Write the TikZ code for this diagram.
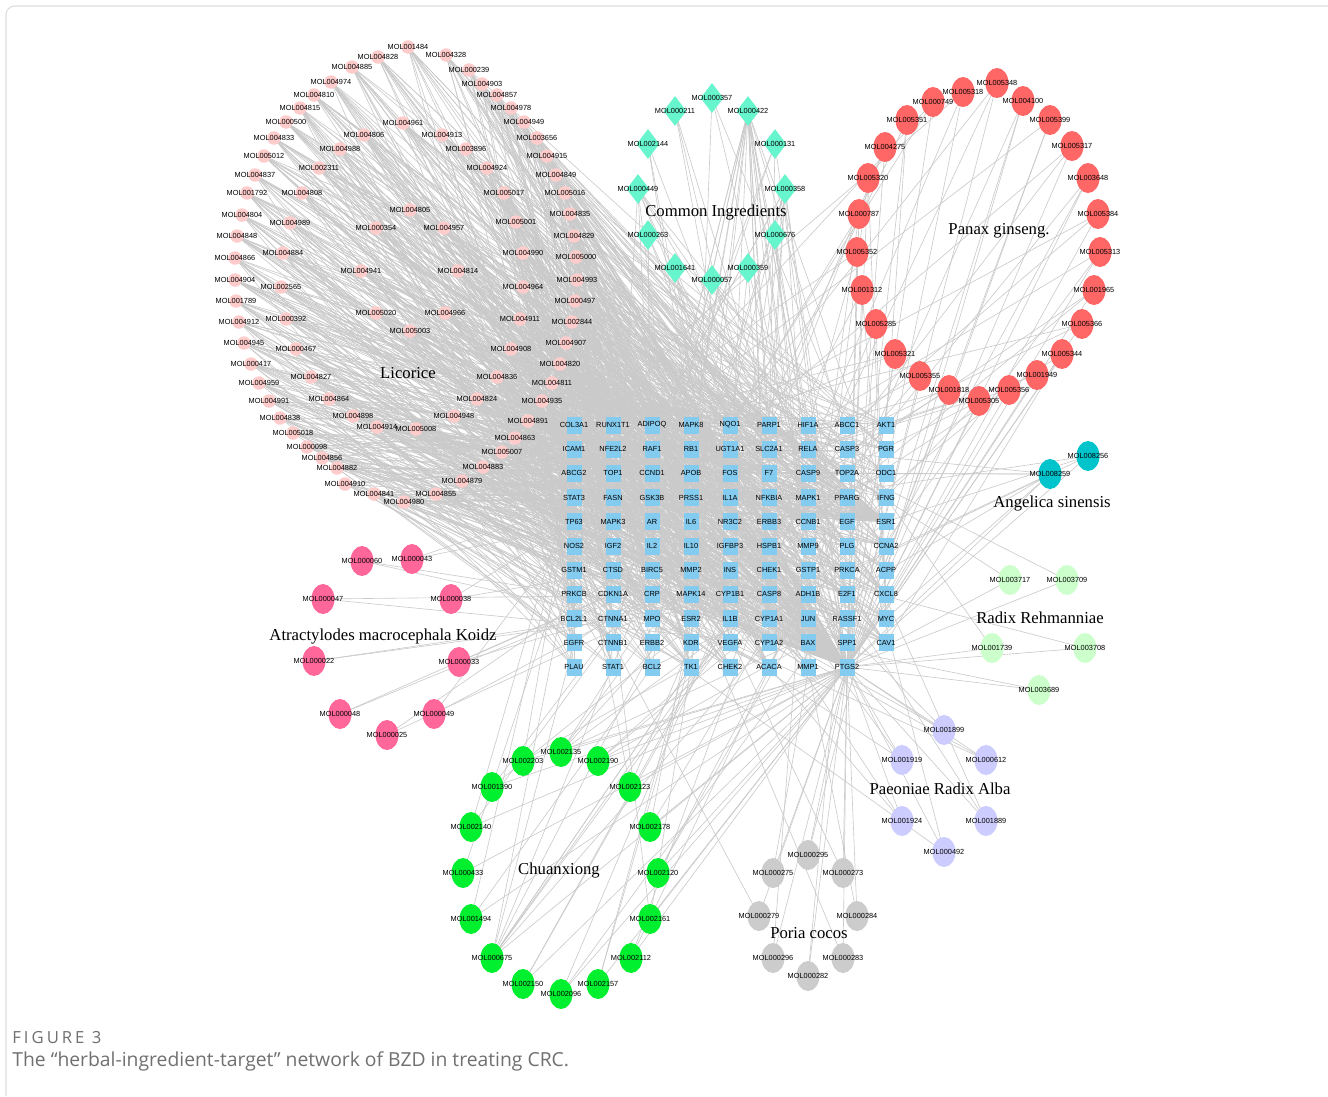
\documentclass[tikz,border=0pt]{standalone}
\usepackage{fontspec}
\setmainfont{Liberation Serif}
\newfontfamily\arialf{Liberation Sans}
\newfontfamily\capfont{Open Sans}
\newfontfamily\capfontsp[LetterSpace=18]{Open Sans}
\usetikzlibrary{shapes.geometric}
\pgfdeclarelayer{paper}
\pgfdeclarelayer{bg}
\pgfsetlayers{paper,bg,main}
\definecolor{edgegray}{HTML}{CACACA}
\definecolor{framegray}{HTML}{DDDDDD}
\definecolor{capgray}{HTML}{707070}
\definecolor{licC}{HTML}{FFCCCC}
\definecolor{comC}{HTML}{66F5CC}
\definecolor{panC}{HTML}{FF6666}
\definecolor{atrC}{HTML}{FF6699}
\definecolor{chuC}{HTML}{00F030}
\definecolor{porC}{HTML}{CCCCCC}
\definecolor{paeC}{HTML}{CCCCFF}
\definecolor{rehC}{HTML}{CCFFCC}
\definecolor{angC}{HTML}{00C4CC}
\definecolor{tgtC}{HTML}{84CBF0}
\begin{document}
\begin{tikzpicture}[x=0.02cm,y=-0.02cm,
  edge/.style={draw=edgegray,line width=0.35pt},
  lbl/.style={font=\arialf\fontsize{4.2}{5}\selectfont,inner sep=0pt,text=black},
  herb/.style={font=\fontsize{9.5}{11}\selectfont,inner sep=0pt},
  lic/.style={circle,fill=licC,minimum size=0.27cm,inner sep=0pt},
  com/.style={diamond,fill=comC,minimum width=0.46cm,minimum height=0.6cm,inner sep=0pt},
  big/.style={ellipse,minimum width=0.46cm,minimum height=0.6cm,inner sep=0pt},
  tgt/.style={rectangle,fill=tgtC,minimum width=0.3cm,minimum height=0.34cm,inner sep=0pt}]
\pgfmathsetseed{4711}
\useasboundingbox (0,0) rectangle (1328,1096);
\begin{pgfonlayer}{paper}
\fill[white] (0,0) rectangle (1328,1096);
\draw[framegray,line width=0.6pt,rounded corners=5pt] (6,1096) -- (6,6) -- (1328,6);
\end{pgfonlayer}

% targets
\foreach \row [count=\ri from 0] in {
 {COL3A1,RUNX1T1,ADIPOQ,MAPK8,NQO1,PARP1,HIF1A,ABCC1,AKT1},
 {ICAM1,NFE2L2,RAF1,RB1,UGT1A1,SLC2A1,RELA,CASP3,PGR},
 {ABCG2,TOP1,CCND1,APOB,FOS,F7,CASP9,TOP2A,ODC1},
 {STAT3,FASN,GSK3B,PRSS1,IL1A,NFKBIA,MAPK1,PPARG,IFNG},
 {TP63,MAPK3,AR,IL6,NR3C2,ERBB3,CCNB1,EGF,ESR1},
 {NOS2,IGF2,IL2,IL10,IGFBP3,HSPB1,MMP9,PLG,CCNA2},
 {GSTM1,CTSD,BIRC5,MMP2,INS,CHEK1,GSTP1,PRKCA,ACPP},
 {PRKCB,CDKN1A,CRP,MAPK14,CYP1B1,CASP8,ADH1B,E2F1,CXCL8},
 {BCL2L1,CTNNA1,MPO,ESR2,IL1B,CYP1A1,JUN,RASSF1,MYC},
 {EGFR,CTNNB1,ERBB2,KDR,VEGFA,CYP1A2,BAX,SPP1,CAV1},
 {PLAU,STAT1,BCL2,TK1,CHEK2,ACACA,MMP1,PTGS2}}{
  \foreach \g [count=\ci from 0] in \row {
    \pgfmathtruncatemacro{\id}{\ri*9+\ci+1}
    \node[tgt,label={[lbl]center:\g}] (t\id) at ({574+39*\ci},{425+24.2*\ri}) {};
  }
}

% Licorice
\foreach \x/\y/\m [count=\i] in {408/47/MOL001484,446/55/MOL004328,378/57/MOL004828,352/67/MOL004885,469/70/MOL000239,331/82/MOL004974,482/84/MOL004903,314/95/MOL004810,497/95/MOL004857,300/108/MOL004815,511/108/MOL004978,286/122/MOL000500,524/122/MOL004949,274/138/MOL004833,537/138/MOL003656,264/156/MOL005012,547/156/MOL004915,255/175/MOL004837,556/175/MOL004849,247/193/MOL001792,565/193/MOL005016,242/215/MOL004804,570/214/MOL004835,237/236/MOL004848,574/236/MOL004829,235/258/MOL004866,576/257/MOL005000,235/280/MOL004904,577/280/MOL004993,236/301/MOL001789,575/301/MOL000497,239/322/MOL004912,572/322/MOL002844,244/343/MOL004945,566/343/MOL004907,251/364/MOL000417,560/364/MOL004820,259/383/MOL004959,552/383/MOL004811,269/401/MOL004991,542/401/MOL004935,280/418/MOL004838,528/421/MOL004891,293/433/MOL005018,515/438/MOL004863,307/447/MOL000098,502/452/MOL005007,322/458/MOL004856,483/467/MOL004883,337/468/MOL004882,462/481/MOL004879,345/484/MOL004910,436/494/MOL004855,374/494/MOL004841,404/502/MOL004980,403/123/MOL004961,364/135/MOL004806,442/135/MOL004913,340/149/MOL004988,466/149/MOL003896,319/168/MOL002311,487/168/MOL004924,302/193/MOL004808,504/193/MOL005017,290/223/MOL004989,516/222/MOL005001,283/253/MOL004884,523/253/MOL004990,281/287/MOL002565,523/287/MOL004964,286/319/MOL000392,520/319/MOL004911,296/349/MOL000467,511/349/MOL004908,311/377/MOL004827,497/377/MOL004836,329/399/MOL004864,477/399/MOL004824,353/416/MOL004898,454/416/MOL004948,377/427/MOL004914,416/429/MOL005008,410/210/MOL004805,376/228/MOL000354,444/228/MOL004957,361/271/MOL004941,458/271/MOL004814,376/313/MOL005020,445/313/MOL004966,410/331/MOL005003}
  \node[lic,label={[lbl]center:\m}] (l\i) at (\x,\y) {};

% Common ingredients
\foreach \x/\y/\m [count=\i] in {712/98/MOL000357,675/111/MOL000211,748/111/MOL000422,648/144/MOL002144,775/144/MOL000131,638/189/MOL000449,785/189/MOL000358,648/235/MOL000263,775/235/MOL000676,675/268/MOL001641,748/268/MOL000359,712/280/MOL000057}
  \node[com,label={[lbl]center:\m}] (c\i) at (\x,\y) {};

% Panax ginseng
\foreach \x/\y/\m [count=\i] in {997/83/MOL005348,963/92/MOL005318,1023/101/MOL004100,933/102/MOL000749,1050/120/MOL005399,907/120/MOL005351,1072/146/MOL005317,885/147/MOL004275,1088/178/MOL003648,868/178/MOL005320,1098/214/MOL005384,859/214/MOL000787,1100/252/MOL005313,857/252/MOL005352,1094/290/MOL001965,862/290/MOL001312,1082/324/MOL005366,876/324/MOL005285,1062/354/MOL005344,895/354/MOL005321,1037/375/MOL001949,920/376/MOL005355,1009/390/MOL005356,949/390/MOL001818,979/401/MOL005305}
  \node[big,fill=panC,label={[lbl]center:\m}] (p\i) at (\x,\y) {};

% Angelica sinensis
\foreach \x/\y/\m [count=\i] in {1088/456/MOL008256,1050/474/MOL008259}
  \node[big,fill=angC,label={[lbl]center:\m}] (a\i) at (\x,\y) {};

% Radix Rehmanniae
\foreach \x/\y/\m [count=\i] in {1010/580/MOL003717,1067/580/MOL003709,992/648/MOL001739,1085/648/MOL003708,1039/690/MOL003689}
  \node[big,fill=rehC,label={[lbl]center:\m}] (r\i) at (\x,\y) {};

% Paeoniae Radix Alba
\foreach \x/\y/\m [count=\i] in {944/730/MOL001899,902/760/MOL001919,986/760/MOL000612,902/821/MOL001924,986/821/MOL001889,944/852/MOL000492}
  \node[big,fill=paeC,label={[lbl]center:\m}] (q\i) at (\x,\y) {};

% Poria cocos
\foreach \x/\y/\m [count=\i] in {808/855/MOL000295,773/873/MOL000275,843/873/MOL000273,759/916/MOL000279,857/916/MOL000284,773/958/MOL000296,843/958/MOL000283,808/976/MOL000282}
  \node[big,fill=porC,label={[lbl]center:\m}] (g\i) at (\x,\y) {};

% Chuanxiong
\foreach \x/\y/\m [count=\i] in {561/752/MOL002135,523/761/MOL002203,598/761/MOL002190,492/787/MOL001390,630/787/MOL002123,471/827/MOL002140,650/827/MOL002178,463/873/MOL000433,658/873/MOL002120,471/919/MOL001494,650/919/MOL002161,492/958/MOL000675,631/958/MOL002112,523/984/MOL002150,598/984/MOL002157,561/994/MOL002096}
  \node[big,fill=chuC,label={[lbl]center:\m}] (x\i) at (\x,\y) {};

% Atractylodes
\foreach \x/\y/\m [count=\i] in {362/561/MOL000060,412/559/MOL000043,323/599/MOL000047,451/599/MOL000038,314/661/MOL000022,459/662/MOL000033,340/714/MOL000048,434/714/MOL000049,387/735/MOL000025}
  \node[big,fill=atrC,label={[lbl]center:\m}] (k\i) at (\x,\y) {};

% herb titles
\node[herb] (hLic) at (408,373) {Licorice};
\node[herb] (hCom) at (716,213) {Common Ingredients};
\node[herb] (hPan) at (999,231) {Panax ginseng.};
\node[herb] (hAng) at (1052,503) {Angelica sinensis};
\node[herb] (hReh) at (1040,618) {Radix Rehmanniae};
\node[herb] (hPae) at (940,789) {Paeoniae Radix Alba};
\node[herb] (hPor) at (809,933) {Poria cocos};
\node[herb] (hChu) at (559,870) {Chuanxiong};
\node[herb] (hAtr) at (383,636) {Atractylodes macrocephala Koidz};

% caption
\node[anchor=west,inner sep=0pt,text=capgray,font=\capfontsp\fontsize{9.5}{11}\selectfont] (figno) at (12,1038) {FIGURE 3};
\node[anchor=west,inner sep=0pt,text=capgray,font=\capfont\fontsize{11}{13}\selectfont] (figcap) at (12,1061) {The “herbal-ingredient-target” network of BZD in treating CRC.};

% edges
\begin{pgfonlayer}{bg}
\foreach \i in {1,...,90}{
  \draw[edge] (l\i.center) -- (t98.center);
  \foreach \k in {1,...,10}{
    \pgfmathrandominteger{\rr}{1}{98}
    \draw[edge] (l\i.center) -- (t\rr.center);
  }
}
\foreach \i in {2,4,...,90}{ \draw[edge] (l\i.center) -- (t45.center); }
\foreach \i/\n in {1/2,2/2,3/20,4/2,5/3,6/7,7/10,8/3,9/3,10/3,11/3,12/4}{
  \draw[edge] (c\i.center) -- (t98.center);
  \foreach \k in {1,...,\n}{
    \pgfmathrandominteger{\rr}{1}{98}
    \draw[edge] (c\i.center) -- (t\rr.center);
  }
}
\foreach \i in {1,...,25}{
  \draw[edge] (p\i.center) -- (t98.center);
  \foreach \k in {1,2}{
    \pgfmathrandominteger{\rr}{1}{98}
    \draw[edge] (p\i.center) -- (t\rr.center);
  }
}
\foreach \i/\n in {1/3,2/6}{
  \draw[edge] (a\i.center) -- (t98.center);
  \foreach \k in {1,...,\n}{
    \pgfmathrandominteger{\rr}{1}{98}
    \draw[edge] (a\i.center) -- (t\rr.center);
  }
}
\foreach \i in {1,...,5}{
  \draw[edge] (r\i.center) -- (t98.center);
  \pgfmathrandominteger{\rr}{1}{98}
  \draw[edge] (r\i.center) -- (t\rr.center);
}
\foreach \i in {1,...,6}{
  \draw[edge] (q\i.center) -- (t98.center);
  \foreach \k in {1,2}{
    \pgfmathrandominteger{\rr}{1}{98}
    \draw[edge] (q\i.center) -- (t\rr.center);
  }
}
\foreach \i in {1,...,8}{
  \draw[edge] (g\i.center) -- (t98.center);
  \pgfmathrandominteger{\rr}{1}{98}
  \draw[edge] (g\i.center) -- (t\rr.center);
}
\foreach \i/\n in {1/5,2/2,3/3,4/2,5/2,6/2,7/2,8/1,9/2,10/2,11/2,12/9,13/2,14/2,15/2,16/2}{
  \draw[edge] (x\i.center) -- (t98.center);
  \foreach \k in {1,...,\n}{
    \pgfmathrandominteger{\rr}{1}{98}
    \draw[edge] (x\i.center) -- (t\rr.center);
  }
}
\foreach \i in {1,...,9}{
  \foreach \k in {1,2}{
    \pgfmathrandominteger{\rr}{1}{98}
    \draw[edge] (k\i.center) -- (t\rr.center);
  }
}
\end{pgfonlayer}
\end{tikzpicture}
\end{document}
